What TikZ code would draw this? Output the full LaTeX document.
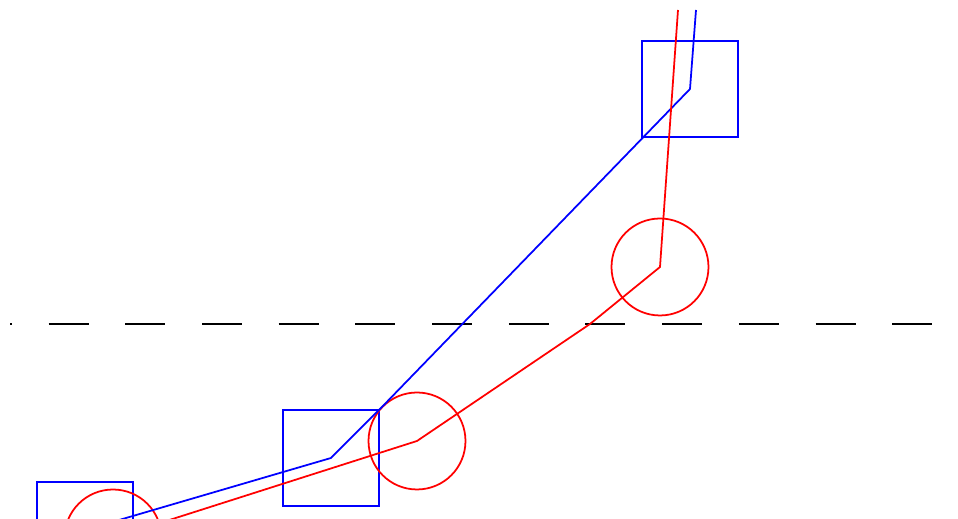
\documentclass[tikz,border=0pt]{standalone}
\usepackage{tkz-euclide}
\tikzset{
  gate/.style={blue,line width=1pt},
  ring/.style={red,line width=1pt},
  midline/.style={black,line width=.8pt,dash pattern=on .8cm off .734cm,dash phase=.76cm},
}
\begin{document}
\begin{tikzpicture}[x=.02cm,y=.02cm]
\useasboundingbox (0,0) rectangle (958,519);
\clip (0,0) rectangle (958,519);
\tkzDefPoints{85/-11/Q1, 331/61/Q2, 690/430/Q3, 380/110/B1, 696/509/B2}
\tkzDefPoints{113/-19/C1, 417/78/C2, 660/252/C3, 590/195/R1, 678/509/R2}
\tkzDefPoints{10/195/L1, 933/195/L2}
\draw[midline] (L1) -- (L2);
\foreach \q in {Q1,Q2,Q3} \draw[gate] (\q) +(-48,-48) rectangle +(48,48);
\foreach \c in {C1,C2,C3} \draw[ring] (\c) circle[radius=.97cm];
\draw[gate] (Q1) -- (Q2) -- (B1) -- (Q3) -- (B2);
\draw[ring] (C1) -- (C2) -- (R1) -- (C3) -- (R2);
\end{tikzpicture}
\end{document}
